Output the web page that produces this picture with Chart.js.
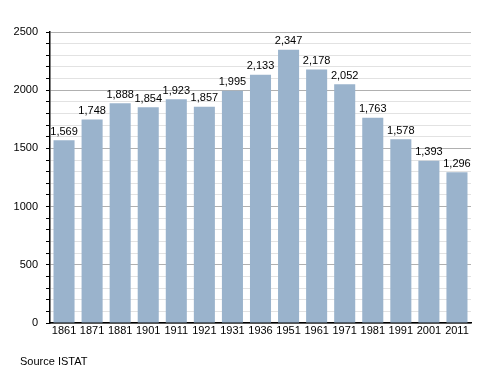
<!DOCTYPE html>
<html lang="en">
<head>
    <meta charset="UTF-8">
    <title>Population</title>
    <script src="https://cdn.jsdelivr.net/npm/chart.js"></script>
    <style>
        body { margin: 0; background: #fff; }
        #wrap { width: 500px; height: 373px; }
    </style>
</head>
<body>
<div id="wrap"><canvas id="popChart"></canvas></div>
<script>
    const years = ['1861', '1871', '1881', '1901', '1911', '1921', '1931', '1936', '1951', '1961', '1971', '1981', '1991', '2001', '2011'];
    const population = [1569, 1748, 1888, 1854, 1923, 1857, 1995, 2133, 2347, 2178, 2052, 1763, 1578, 1393, 1296];
    const sourceText = 'Source ISTAT';

    const FONT = '"Liberation Sans", Arial, sans-serif';

    // value labels above the bars + source note
    const labelPlugin = {
        id: 'labels',
        afterDatasetsDraw(chart) {
            const ctx = chart.ctx;
            const meta = chart.getDatasetMeta(0);
            ctx.save();
            ctx.font = '11px ' + FONT;
            ctx.fillStyle = '#000';
            ctx.textAlign = 'center';
            ctx.textBaseline = 'bottom';
            meta.data.forEach(function(bar, i) {
                ctx.fillText(population[i].toLocaleString('en-US'), bar.x, bar.y - 3);
            });
            ctx.textAlign = 'left';
            ctx.textBaseline = 'middle';
            ctx.fillText(sourceText, 20, 362);
            ctx.restore();
        }
    };

    new Chart(document.getElementById('popChart'), {
        type: 'bar',
        data: {
            labels: years,
            datasets: [{
                data: population,
                backgroundColor: '#9ab3cc',
                barPercentage: 0.75,
                categoryPercentage: 1
            }]
        },
        options: {
            responsive: true,
            maintainAspectRatio: false,
            animation: false,
            layout: { padding: { top: 32, right: 29, bottom: 30, left: 0 } },
            plugins: {
                legend: { display: false },
                tooltip: { enabled: false }
            },
            scales: {
                x: {
                    afterFit: function(s) { s.height = 20; },
                    grid: { display: false, drawTicks: false },
                    border: { color: '#000', width: 1.5 },
                    ticks: { color: '#000', font: { family: FONT, size: 11 }, padding: 1, maxRotation: 0, autoSkip: false }
                },
                y: {
                    min: 0,
                    max: 2500,
                    afterFit: function(s) { s.width = 50; },
                    border: { color: '#000', width: 1.5 },
                    grid: {
                        color: function(c) { return c.tick.value % 500 === 0 ? '#b0b0b0' : '#e2e2e2'; },
                        tickColor: '#000',
                        tickLength: 4
                    },
                    ticks: {
                        stepSize: 100,
                        autoSkip: false,
                        color: '#000',
                        padding: 8,
                        font: { family: FONT, size: 11 },
                        callback: function(v) { return v % 500 === 0 ? v : ''; }
                    }
                }
            }
        },
        plugins: [labelPlugin]
    });
</script>
</body>
</html>
